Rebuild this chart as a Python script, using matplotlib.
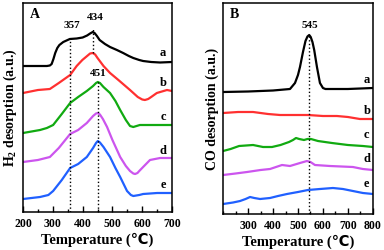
import matplotlib
matplotlib.use('Agg')
import matplotlib.pyplot as plt
from matplotlib.ticker import MultipleLocator

plt.rcParams['font.family'] = ['Liberation Serif', 'DejaVu Sans']
plt.rcParams['font.weight'] = 'bold'
plt.rcParams['mathtext.fontset'] = 'custom'
plt.rcParams['mathtext.bf'] = 'Liberation Serif:bold'
plt.rcParams['mathtext.rm'] = 'Liberation Serif:bold'
plt.rcParams['mathtext.default'] = 'bf'

# ---- panel A: H2-TPD (arbitrary units, stacked) ----
h2_a_t = [200, 280, 290, 296, 302, 308, 315, 322, 335, 357, 380, 400, 415, 425, 434, 440, 448, 457, 475, 492, 515, 536, 555, 570, 590, 603, 630, 660, 700]
h2_a = [146, 146, 146.5, 148, 153, 159, 164, 167, 170, 173, 173.5, 174.5, 176.5, 178.5, 180, 179, 176, 172, 168, 165, 162, 159, 156, 154, 152, 151, 150, 149.5, 150]
h2_b_t = [200, 250, 290, 320, 358, 380, 399, 415, 425, 434, 442, 450, 470, 492, 520, 559, 585, 600, 609, 620, 630, 649, 683, 700]
h2_b = [119, 122, 123, 129, 137, 146, 152, 156, 158.5, 159, 157.5, 154, 146, 139, 132, 122, 115, 112.5, 112, 113, 115, 119, 122, 121]
h2_c_t = [200, 257, 280, 301, 330, 358, 385, 414, 435, 445, 451, 458, 470, 492, 510, 526, 545, 559, 570, 592, 630, 700]
h2_c = [79, 82, 84, 87, 98, 109, 115, 121, 126, 129, 130, 129, 125, 119, 111, 102, 92, 86, 85, 87, 87, 87]
h2_d_t = [200, 250, 290, 320, 358, 385, 414, 435, 445, 451, 458, 468, 482, 500, 526, 545, 559, 570, 576, 584, 590, 603, 626, 660, 700]
h2_d = [50, 52, 55, 64, 78, 82, 89, 96, 98.5, 99, 97.5, 93, 85, 72, 55, 46, 41, 38.5, 38, 39, 41, 45, 52, 54, 54]
h2_e_t = [200, 257, 285, 301, 330, 358, 385, 414, 435, 445, 451, 458, 470, 492, 510, 526, 549, 562, 570, 590, 603, 650, 700]
h2_e = [13, 15, 17, 21, 32, 44, 48, 55, 64, 69, 71, 69.5, 65, 55, 44, 35, 21, 17, 16, 17, 18, 19, 19]

# ---- panel B: CO-TPD ----
co_a_t = [200, 300, 400, 468, 488, 500, 508, 520, 530, 538, 545, 551, 558, 565, 576, 588, 600, 610, 700, 800]
co_a = [122, 122.5, 123.5, 125, 131, 139, 147, 162, 173, 177.5, 179, 177, 172, 164, 147, 131, 126, 125, 125, 126]
co_b_t = [200, 260, 320, 380, 428, 480, 540, 600, 656, 700, 748, 800]
co_b = [101, 102, 102, 100, 99, 99, 99, 98, 98, 97, 95, 95]
co_c_t = [200, 230, 264, 320, 360, 396, 430, 464, 480, 492, 505, 524, 538, 552, 580, 636, 700, 760, 800]
co_c = [63, 65, 68, 69, 67, 67, 69, 72, 74, 76, 75, 74, 75, 75, 73, 71, 69, 68, 67]
co_d_t = [200, 250, 296, 350, 388, 436, 468, 508, 536, 550, 568, 628, 720, 760, 800]
co_d = [39, 40.5, 42, 44, 45, 49, 48, 51, 53, 52, 49, 48, 47, 45, 44]
co_e_t = [200, 240, 268, 290, 308, 325, 348, 388, 420, 456, 500, 540, 588, 640, 680, 720, 760, 800]
co_e = [10, 11.5, 13, 15, 17, 16, 15, 16, 18, 20, 22, 24, 25, 26, 25, 23, 21, 20]

colors = ['black', '#ff3030', '#11aa11', '#cc55ee', '#2060ff']
names = ['a', 'b', 'c', 'd', 'e']

fig = plt.figure(figsize=(3.84, 2.5), dpi=100)
axA = fig.add_axes([0.060, 0.152, 0.388, 0.836])
axB = fig.add_axes([0.581, 0.144, 0.390, 0.844])


def style(ax, xlim, ylim, ticks):
    ax.set_xlim(*xlim)
    ax.set_ylim(*ylim)
    ax.set_xticks(ticks)
    ax.xaxis.set_minor_locator(MultipleLocator(50))
    ax.set_yticks([])
    ax.tick_params(axis='x', which='major', direction='in', length=4, width=1, labelsize=8.5, pad=4.5)
    ax.tick_params(axis='x', which='minor', direction='in', length=2.5, width=1)
    for s in ax.spines.values():
        s.set_linewidth(1.1)
    ax.set_xlabel('Temperature (\u2103)', fontsize=10.5, fontweight='bold', labelpad=2)


# panel A
for (t, v), c in zip([(h2_a_t, h2_a), (h2_b_t, h2_b), (h2_c_t, h2_c), (h2_d_t, h2_d), (h2_e_t, h2_e)], colors):
    axA.plot(t, v, color=c, lw=1.6, solid_joinstyle='round')
axA.plot([357, 357], [0, 173], ls=':', color='black', lw=1)
axA.plot([434, 434], [159, 184], ls=':', color='black', lw=1)
axA.plot([451, 451], [0, 131], ls=':', color='black', lw=1)
axA.text(364, 187, '357', ha='center', va='center', fontsize=8, fontweight='bold')
axA.text(442, 194, '434', ha='center', va='center', fontsize=8, fontweight='bold')
axA.text(452, 138, '451', ha='center', va='center', fontsize=8, fontweight='bold')
axA.text(240, 197, 'A', ha='center', va='center', fontsize=10, fontweight='bold')
for n, yy in zip(names, [159, 129, 95, 61, 27]):
    axA.text(670, yy, n, ha='center', va='center', fontsize=9, fontweight='bold')
style(axA, (200, 700), (0, 209), [200, 300, 400, 500, 600, 700])
axA.set_ylabel('H$_2$ desorption (a.u.)', fontsize=10, fontweight='bold', labelpad=3)

# panel B
for (t, v), c in zip([(co_a_t, co_a), (co_b_t, co_b), (co_c_t, co_c), (co_d_t, co_d), (co_e_t, co_e)], colors):
    axB.plot(t, v, color=c, lw=1.6, solid_joinstyle='round')
axB.plot([545, 545], [0, 179], ls=':', color='black', lw=1)
axB.text(548, 189, '545', ha='center', va='center', fontsize=8, fontweight='bold')
axB.text(244, 199, 'B', ha='center', va='center', fontsize=10, fontweight='bold')
for n, yy in zip(names, [134, 103, 79, 55, 30]):
    axB.text(776, yy, n, ha='center', va='center', fontsize=9, fontweight='bold')
style(axB, (200, 800), (0, 211), [300, 400, 500, 600, 700, 800])
axB.set_ylabel('CO desorption (a.u.)', fontsize=10, fontweight='bold', labelpad=3)

fig.savefig('out.png', dpi=100)
